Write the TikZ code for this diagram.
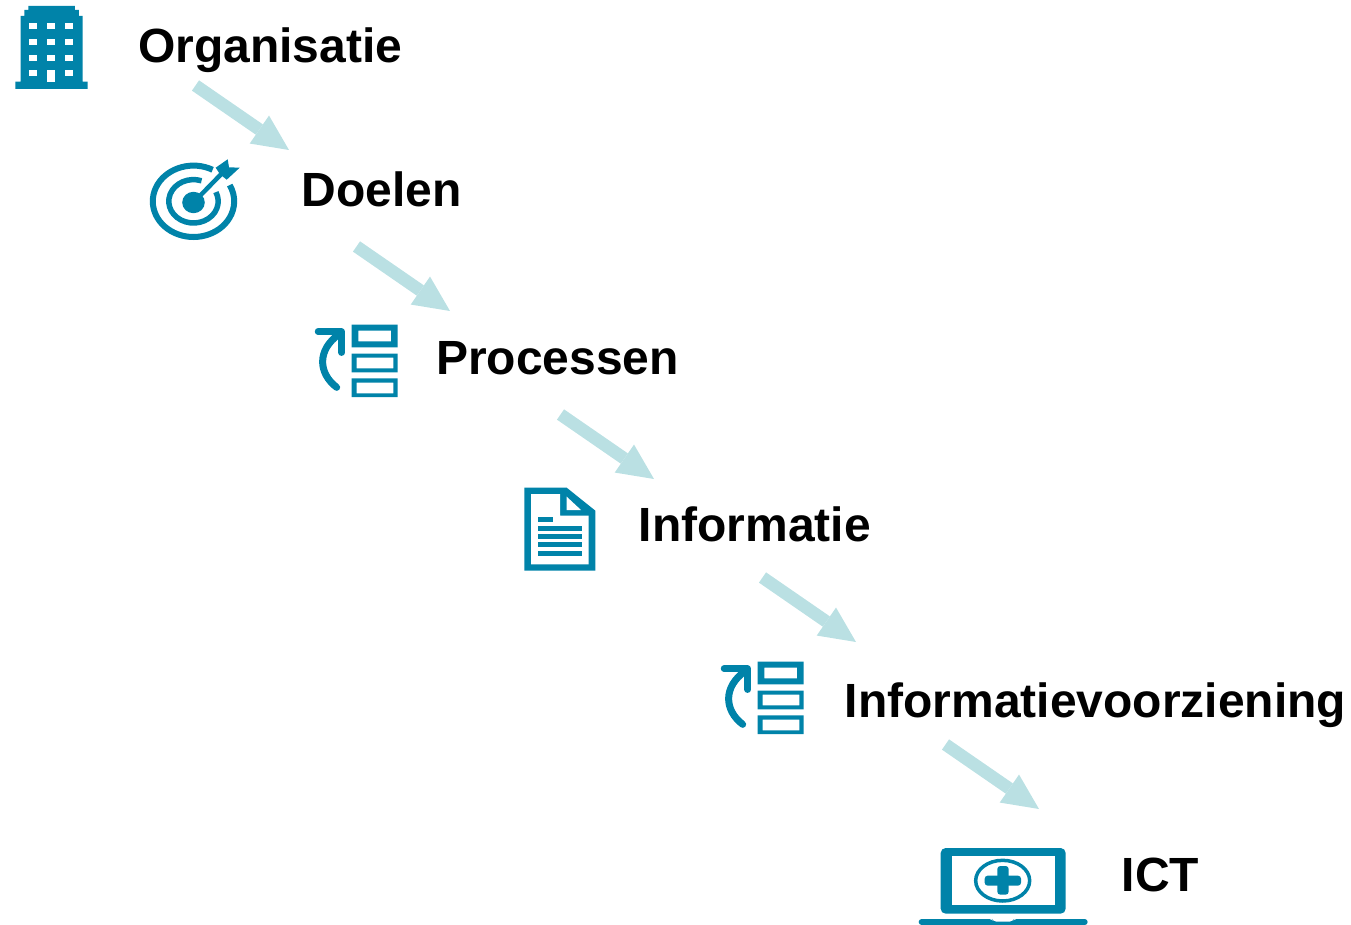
\documentclass[tikz,border=0pt]{standalone}
\usepackage{fontspec}
\setmainfont{Liberation Sans}
\usetikzlibrary{arrows.meta}
\definecolor{teal}{HTML}{0083A9}
\definecolor{lightteal}{HTML}{BAE0E3}
\tikzset{
  label/.style={anchor=base west,inner sep=0pt,font=\fontsize{48}{56}\selectfont\bfseries,text=black},
  flow/.style={draw=lightteal,line width=12.5pt,-{Triangle[length=36pt,width=34pt,fill=lightteal,line width=0pt]}},
  ico/.style={fill=teal,draw=none},
  hole/.style={fill=white,draw=none},
  zoomed/.style={x=0.33333pt,y=-0.33333pt},
  icoline/.style={draw=teal,fill=none}
}
\newcommand{\procicon}[2]{%
  \begin{scope}[shift={(#1,#2)},zoomed]
    \path[ico,even odd rule] (155,44) rectangle (293,112) (175,62) rectangle (273,94);
    \path[ico,even odd rule] (155,131) rectangle (293,187) (170,143) rectangle (280,175);
    \path[ico,even odd rule] (155,205) rectangle (293,261) (170,218) rectangle (280,250);
    \draw[icoline,line width=7pt,line cap=round,line join=round] (110,232) .. controls (55,190) and (50,120) .. (118,72);
    \draw[icoline,line width=6.5pt,line cap=round,line join=round] (54,65) -- (125,65) -- (125,128);
  \end{scope}}
\begin{document}
\begin{tikzpicture}[x=1pt,y=-1pt]
\useasboundingbox (0,0) rectangle (1351,925);
% labels
\node[label] (org) at (138,62.5) {Organisatie};
\node[label] (doel) at (301.5,206.5) {Doelen};
\node[label] (proc) at (436,374) {Processen};
\node[label] (info) at (638.5,541) {Informatie};
\node[label] (iv) at (844.5,717) {Informatievoorziening};
\node[label] (ict) at (1121.5,891) {ICT};
% connector ends
\coordinate (a1) at (195.5,85.5); \coordinate (b1) at (289,150);
\coordinate (a2) at (356.5,246.5); \coordinate (b2) at (450,311);
\coordinate (a3) at (560.5,414.5); \coordinate (b3) at (654,479);
\coordinate (a4) at (762.5,577.5); \coordinate (b4) at (856,642);
\coordinate (a5) at (945.5,744.5); \coordinate (b5) at (1039,809);
\foreach \i in {1,...,5} {\draw[flow] (a\i) -- (b\i);}
% building
\begin{scope}[zoomed]
  \path[ico] (85,18) -- (225,18) -- (225,30) -- (237,30) -- (237,48) -- (248,48) -- (248,245) -- (263,245) -- (263,267) -- (46,267) -- (46,245) -- (62,245) -- (62,48) -- (73,48) -- (73,30) -- (85,30) -- cycle;
  \foreach \cx in {88,142,196} \foreach \cy in {70,117,164} {\path[hole] (\cx,\cy) rectangle +(24,18);}
  \path[hole] (88,210) rectangle (112,228);
  \path[hole] (142,210) rectangle (166,246);
  \path[hole] (196,210) rectangle (220,228);
\end{scope}
% target
\begin{scope}[shift={(193.5,201.3)}]
  \draw[icoline,line width=6pt] (62:40.7pt and 35.7pt) arc[start angle=62,end angle=387,x radius=40.7pt,y radius=35.7pt];
  \draw[icoline,line width=5.5pt] (71:24.7pt and 21.7pt) arc[start angle=71,end angle=385,x radius=24.7pt,y radius=21.7pt];
  \path[ico] (0,1.2) ellipse[x radius=11.3pt,y radius=10.7pt];
  \draw[draw=teal,line width=4.5pt] (0,1.2) -- (28,-27.5);
  \path[ico] (22.2,-33.6) -- (34.2,-42) -- (35.5,-34) -- (46.2,-33.6) -- (33.2,-21.6) -- (26.5,-27) -- cycle;
\end{scope}
% document
\begin{scope}[shift={(300,310)},zoomed]
  \path[ico] (673,533) -- (800,533) -- (886,602) -- (886,782) -- (673,782) -- cycle;
  \path[hole] (693,552) -- (780,552) -- (780,617) -- (866,617) -- (866,763) -- (693,763) -- cycle;
  \path[hole] (800,560) -- (843,600) -- (800,600) -- cycle;
  \path[ico] (714,621) rectangle (758,636);
  \foreach \ly in {648,672,696,723} {\path[ico] (714,\ly) rectangle (846,\ly+15);}
\end{scope}
% process icons
\procicon{300}{310}
\procicon{706}{647}
% laptop
\begin{scope}[shift={(900,730)},zoomed]
  \path[ico,rounded corners=5pt] (122,551) -- (122,354) -- (497,354) -- (497,551) -- cycle;
  \path[hole] (155,379) rectangle (464,525);
  \draw[icoline,line width=3.5pt] (308,452) ellipse[x radius=81,y radius=61];
  \path[ico,rounded corners=3pt] (254,437) rectangle (363,467);
  \path[ico,rounded corners=3pt] (292,408) rectangle (326,494);
  \path[ico,rounded corners=3pt] (56,567) -- (276,567) -- (280,575) -- (338,575) -- (342,567) -- (563,567) -- (563,585) -- (56,585) -- cycle;
\end{scope}
\end{tikzpicture}
\end{document}
